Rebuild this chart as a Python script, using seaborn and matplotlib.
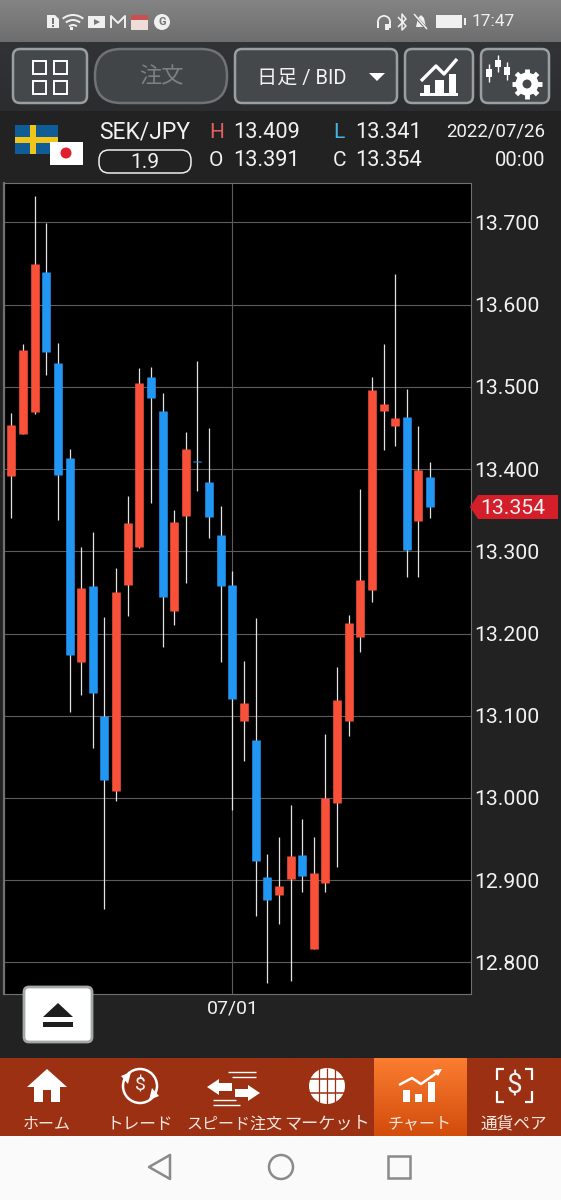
import numpy as np
import pandas as pd
import matplotlib.pyplot as plt
import seaborn as sns
from matplotlib.patches import FancyBboxPatch, Polygon, Rectangle, Circle, Wedge

# Daily SEK/JPY candles
opens = [13.392, 13.443, 13.469, 13.640, 13.529, 13.413, 13.165, 13.258, 13.100, 13.008,
         13.259, 13.305, 13.512, 13.471, 13.228, 13.343, 13.410, 13.384, 13.320, 13.259,
         13.094, 13.070, 12.904, 12.882, 12.902, 12.931, 12.816, 12.897, 12.994, 13.094,
         13.196, 13.253, 13.471, 13.452, 13.463, 13.337, 13.391]
closes = [13.454, 13.545, 13.650, 13.543, 13.393, 13.174, 13.255, 13.128, 13.022, 13.251,
          13.334, 13.505, 13.487, 13.244, 13.336, 13.424, 13.409, 13.342, 13.258, 13.121,
          13.116, 12.923, 12.876, 12.893, 12.929, 12.905, 12.909, 13.000, 13.119, 13.213,
          13.265, 13.496, 13.479, 13.462, 13.302, 13.399, 13.354]
highs = [13.468, 13.552, 13.732, 13.699, 13.553, 13.425, 13.305, 13.323, 13.220, 13.280,
         13.367, 13.523, 13.524, 13.492, 13.350, 13.445, 13.532, 13.450, 13.355, 13.276,
         13.167, 13.219, 12.932, 12.952, 12.992, 12.975, 12.953, 13.078, 13.159, 13.222,
         13.376, 13.512, 13.552, 13.637, 13.497, 13.452, 13.409]
lows = [13.341, 13.443, 13.467, 13.515, 13.338, 13.104, 13.125, 13.061, 12.865, 12.996,
        13.221, 13.304, 13.359, 13.184, 13.210, 13.261, 13.373, 13.316, 13.166, 12.986,
        13.045, 12.856, 12.775, 12.847, 12.777, 12.886, 12.816, 12.886, 12.916, 13.075,
        13.178, 13.238, 13.423, 13.428, 13.269, 13.269, 13.341]
price_ticks = [13.7, 13.6, 13.5, 13.4, 13.3, 13.2, 13.1, 13.0, 12.9, 12.8]
date_tick_day = 19
date_tick_label = '07/01'
nav_labels = ['ホーム', 'トレード', 'スピード注文', 'マーケット', 'チャート', '通貨ペア']

RED = '#F9503A'
BLUE = '#2196F3'
WHITE = '#F2F2F2'
NAV = '#9c3012'

sns.set_theme(style='dark', rc={'axes.facecolor': 'black', 'figure.facecolor': '#222222',
                                'axes.edgecolor': '#707070', 'axes.grid': True,
                                'grid.color': '#5c5c5c', 'grid.linewidth': 0.8,
                                'axes.axisbelow': True})
plt.rcParams['font.family'] = ['Roboto', 'Noto Sans CJK JP', 'DejaVu Sans']

days = np.arange(len(opens))
candles = pd.DataFrame({'day': days, 'open': opens, 'close': closes, 'high': highs, 'low': lows})
candles['side'] = np.where(candles['close'] > candles['open'], 'up', 'down')

# Long form: each candle becomes one short vertical line per day
wicks = candles.melt(id_vars=['day'], value_vars=['high', 'low'], value_name='price')
bodies = candles.melt(id_vars=['day', 'side'], value_vars=['open', 'close'], value_name='price')

fig = plt.figure(figsize=(5.61, 12.0), dpi=100)
ax = fig.add_axes([4 / 561, 206 / 1200, 467 / 561, 811 / 1200])

sns.lineplot(data=wicks, x='day', y='price', units='day', estimator=None, color='#e2e2e2',
             lw=0.9, sort=False, legend=False, ax=ax, solid_capstyle='butt')
sns.lineplot(data=bodies, x='day', y='price', units='day', hue='side', estimator=None,
             palette={'up': RED, 'down': BLUE}, lw=6.2, sort=False, legend=False, ax=ax,
             solid_capstyle='butt')

ax.set_xlim(-0.64, 39.52)
ax.set_ylim(12.7616, 13.748)
ax.set_xlabel('')
ax.set_ylabel('')
ax.set_xticks([date_tick_day])
ax.set_xticklabels([date_tick_label])
ax.set_yticks(price_ticks)
ax.set_yticklabels([f'{p:.3f}' for p in price_ticks])
ax.yaxis.tick_right()
ax.tick_params(axis='y', length=0, pad=2, labelsize=15.3, colors=WHITE)
ax.tick_params(axis='x', length=0, pad=4, labelsize=14, colors=WHITE)
ax.grid(True, axis='both')
for s in ax.spines.values():
    s.set_linewidth(0.8)
ax.spines['left'].set_linewidth(1.6)

# Everything around the chart is app chrome, drawn in screen pixels
ui = fig.add_axes([0, 0, 1, 1], zorder=5)
ui.patch.set_alpha(0)
ui.axis('off')


def gradient(x0, x1, y0, y1, c0, c1):
    cmap = plt.matplotlib.colors.LinearSegmentedColormap.from_list('g', [c0, c1])
    ui.imshow(np.linspace(0, 1, 64).reshape(-1, 1), cmap=cmap, aspect='auto',
              extent=(x0, x1, y1, y0), zorder=1)


def button(x0, x1, y0, y1, radius=7, edge='#9aa0a0', face='#44484b', lw=1.8, z=2):
    ui.add_patch(FancyBboxPatch((x0 + radius, y0 + radius), x1 - x0 - 2 * radius, y1 - y0 - 2 * radius,
                                boxstyle=f'round,pad={radius},rounding_size={radius}',
                                fc=face, ec=edge, lw=lw, zorder=z))


def label(x, y, s, size=14, color=WHITE, ha='center', weight='normal'):
    ui.text(x, y, s, fontsize=size, color=color, ha=ha, va='center', weight=weight, zorder=6)


def poly(points, color='white', z=5):
    ui.add_patch(Polygon(points, closed=True, fc=color, ec='none', zorder=z))


def box(x, y, w, h, color='white', z=5):
    ui.add_patch(Rectangle((x, y), w, h, fc=color, ec='none', zorder=z))


def stroke(xs, ys, color='white', lw=1.5, z=5):
    ui.plot(xs, ys, color=color, lw=lw, zorder=z, solid_capstyle='butt')


# Status bar, toolbar and navigation backgrounds
gradient(0, 561, 0, 42, '#848484', '#6e6e6e')
gradient(0, 561, 42, 111, '#313335', '#2b2d2f')
gradient(0, 561, 1058, 1136, NAV, NAV)
gradient(374, 467, 1058, 1136, '#fb7d30', '#d24c0c')
box(0, 1136, 561, 64, '#fafafa')

# Status bar icons
ICON = '#f0f0f0'
label(493, 22, '17:47', 12.5, ICON)
poly([(47, 15), (55, 15), (59, 19), (59, 28), (47, 28)], ICON)
box(52, 18, 2, 6, '#777777', z=6)
box(52, 25, 2, 2, '#777777', z=6)
for r in (17, 12, 7):
    ui.add_patch(Wedge((73, 31), r, 230, 310, width=2, fc=ICON, ec='none', zorder=5))
box(70, 27, 3, 3, ICON)
box(88, 16, 17, 12, ICON)
poly([(94, 19), (100, 22), (94, 25)], '#777777', z=6)
stroke([111, 111, 118, 125, 125], [28, 16, 23, 16, 28], ICON, 1.4)
box(131, 19, 17, 11, '#eeddd6')
box(131, 15, 17, 5, '#c85050')
ui.add_patch(Circle((162, 22), 8, fc=ICON, ec='none', zorder=5))
label(162, 22, 'G', 8, '#777777', weight='bold')
ui.add_patch(Wedge((384, 22), 7, 180, 360, width=1.8, fc=ICON, ec='none', zorder=5))
box(377, 22, 2, 6, ICON)
box(389, 22, 2, 6, ICON)
box(385, 24, 4, 6, ICON)
stroke([398, 406, 402, 402, 406, 398], [17, 26, 30, 14, 19, 27], ICON, 1.1)
poly([(416, 27), (418, 18), (421, 15), (424, 18), (426, 27)], ICON)
stroke([413, 428], [14, 30], '#777777', 2.2, z=6)
stroke([414, 427], [14, 29], ICON, 1.1, z=7)
box(436, 15, 26, 13, ICON)
box(464, 18, 2, 7, ICON)

# Toolbar buttons
button(13, 87, 49, 103)
for bx in (33, 54):
    for by in (61, 81):
        ui.add_patch(Rectangle((bx, by), 13, 13, fc='none', ec='white', lw=1.4, zorder=5))
button(95, 227, 49, 103, radius=26, edge='#6f7375', face='#424548')
label(161, 78, '注文', 16, '#7d8083')
button(235, 397, 49, 103)
label(302, 78, '日足 / BID', 14.5)
poly([(369, 73), (385, 73), (377, 81)])
button(405, 473, 49, 103)
box(420, 93, 38, 2.5)
box(424, 85, 6, 8)
box(435, 80, 9, 13)
box(449, 74, 7, 19)
stroke([421, 436, 444, 457], [81, 66, 74, 59], lw=2.4)
button(481, 549, 49, 103)
for cx, top, bot in zip((489, 498, 507), (64, 55, 62), (82, 72, 80)):
    stroke([cx, cx], [top, bot], lw=1)
    box(cx - 3, top + 5, 6, bot - top - 10)
ui.add_patch(Circle((527, 84), 8, fc='none', ec='white', lw=5, zorder=5))
for a in np.deg2rad(np.arange(0, 360, 45)):
    stroke([527 + 10 * np.cos(a), 527 + 15 * np.cos(a)], [84 + 10 * np.sin(a), 84 + 15 * np.sin(a)], lw=3.5)

# Flags
box(15, 125, 43, 29, '#0f5c97')
box(30, 125, 6, 29, '#f2c51a')
box(15, 137, 43, 6, '#f2c51a')
box(50, 142, 33, 23, 'white', z=6)
ui.add_patch(Circle((66, 153), 5.5, fc='#e0202c', ec='none', zorder=7))

# Quote block
label(99, 132, 'SEK/JPY', 16.5, ha='left')
button(99, 191, 150, 173, radius=10, edge='#eeeeee', face='#222222', lw=1.1)
label(145, 163, '1.9', 15)
label(209, 132, 'H', 15, '#e0605c', ha='left')
label(233, 132, '13.409', 15.7, ha='left')
label(333, 132, 'L', 15, '#45b4e6', ha='left')
label(355, 132, '13.341', 15.7, ha='left')
label(545, 132, '2022/07/26', 13.4, ha='right')
label(209, 161, 'O', 15, ha='left')
label(233, 161, '13.391', 15.7, ha='left')
label(333, 161, 'C', 15, ha='left')
label(355, 161, '13.354', 15.7, ha='left')
label(545, 161, '00:00', 14.6, ha='right')

# Current price tag
poly([(470, 507), (478, 495), (558, 495), (558, 519), (478, 519)], '#d41e2a')
label(512.5, 508, f'{closes[-1]:.3f}', 15.3)

# Collapse button over the chart corner
button(24, 92, 987, 1042, radius=5, edge='#a4a8a8', face='white', lw=2, z=6)
poly([(43, 1017), (58, 1003), (73, 1017)], '#1e1e1e', z=7)
box(43, 1022, 30, 5, '#1e1e1e', z=7)

# Navigation labels and icons
nav_x = [47, 140, 234, 327, 420, 514]
nav_sizes = [11.5, 12, 11.5, 12.3, 11.5, 12]
for x, s, fs in zip(nav_x, nav_labels, nav_sizes):
    label(x, 1124, s, fs, '#f6e8e0')
poly([(27, 1087), (47, 1069), (67, 1087), (60, 1087), (60, 1102), (51, 1102), (51, 1090), (43, 1090),
      (43, 1102), (34, 1102), (34, 1087)])
ui.add_patch(Circle((140, 1086), 17, fc='none', ec='white', lw=1.8, zorder=5))
label(140, 1086, '$', 14)
poly([(121, 1076), (131, 1072), (128, 1084)])
poly([(159, 1096), (149, 1100), (152, 1088)])
poly([(207, 1087), (219, 1079), (219, 1083), (232, 1083), (232, 1091), (219, 1091), (219, 1095)])
poly([(260, 1093), (248, 1085), (248, 1089), (235, 1089), (235, 1097), (248, 1097), (248, 1101)])
stroke([228, 256], [1072, 1072], lw=1)
stroke([232, 256], [1077, 1077], lw=1)
stroke([213, 236], [1100, 1100], lw=1)
stroke([213, 240], [1105, 1105], lw=1)
ui.add_patch(Circle((327, 1086), 18, fc='white', ec='none', zorder=5))
for dx in (-8, 0, 8):
    stroke([327 + dx, 327 + dx], [1068, 1104], NAV, 0.9, z=6)
for dy in (-7, 7):
    stroke([309, 345], [1086 + dy, 1086 + dy], NAV, 1.1, z=6)
for bx, top in zip((403, 415, 428), (1090, 1094, 1082)):
    box(bx, top, 7, 1102 - top)
stroke([399, 412, 421, 438], [1085, 1078, 1084, 1072], lw=1.8)
poly([(433, 1070), (442, 1069), (438, 1076)])
label(514, 1086, '$', 20)
for xs, ys in (([497, 497, 504], [1080, 1069, 1069]), ([525, 532, 532], [1069, 1069, 1080]),
               ([497, 497, 504], [1091, 1102, 1102]), ([525, 532, 532], [1102, 1102, 1091])):
    stroke(xs, ys, lw=1.6)

# Android keys
ui.plot([170, 149, 170, 170], [1155, 1167, 1179, 1155], color='#8a8a8a', lw=1.8, zorder=5)
ui.add_patch(Circle((281, 1167), 12, fc='none', ec='#8a8a8a', lw=1.8, zorder=5))
ui.add_patch(Rectangle((388, 1156), 22, 22, fc='none', ec='#8a8a8a', lw=1.8, zorder=5))

ui.set_xlim(0, 561)
ui.set_ylim(1200, 0)

fig.savefig('out.png', dpi=100, facecolor=fig.get_facecolor())
